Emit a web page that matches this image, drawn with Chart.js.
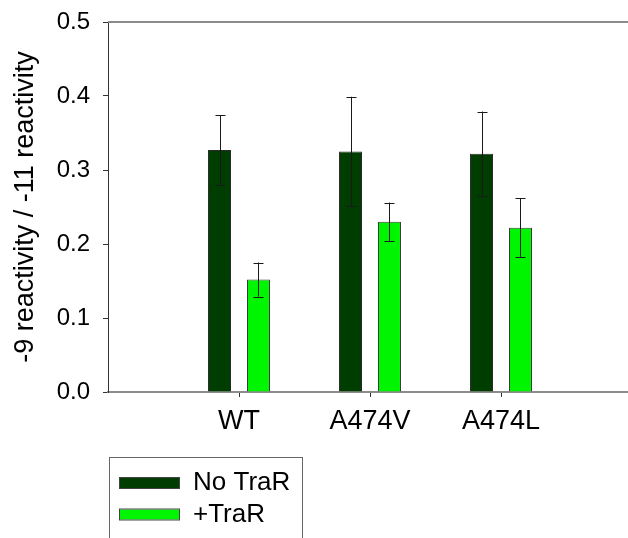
<!DOCTYPE html>
<html>
<head>
<meta charset="utf-8">
<script src="https://cdn.jsdelivr.net/npm/chart.js@4/dist/chart.umd.min.js"></script>
<style>
  html, body { margin: 0; padding: 0; background: #fff; overflow: hidden; }
  #wrap { width: 628px; height: 538px; overflow: hidden; }
  canvas { display: block; }
</style>
</head>
<body>
<div id="wrap"><canvas id="c" width="640" height="538"></canvas></div>
<script>
// Categories (empty slots at both ends keep the groups spaced like the axis)
const categories = ['', 'WT', 'A474V', 'A474L', ''];

// Mean ratio of -9 to -11 reactivity
const noTraR = [null, 0.327, 0.325, 0.322, null];
const plusTraR = [null, 0.152, 0.230, 0.222, null];

// Error bar half-lengths
const noTraRErr = [null, 0.047, 0.074, 0.057, null];
const plusTraRErr = [null, 0.023, 0.026, 0.040, null];

const seriesNames = ['No TraR', '+TraR'];
const yTicks = [0.0, 0.1, 0.2, 0.3, 0.4, 0.5];

const FONT = 'Liberation Sans, Arial, sans-serif';

// Vertical error bars with caps, centred on each bar
const errorBars = {
  id: 'errorBars',
  afterDatasetsDraw(chart) {
    const ctx = chart.ctx;
    const y = chart.scales.y;
    ctx.save();
    ctx.strokeStyle = '#1a1a1a';
    ctx.lineWidth = 1;
    chart.data.datasets.forEach((ds, i) => {
      const meta = chart.getDatasetMeta(i);
      ds.errors.forEach((e, j) => {
        const v = ds.data[j];
        if (v == null || e == null) return;
        const x = Math.round(meta.data[j].x) + 0.5;
        const yTop = y.getPixelForValue(v + e);
        const yBot = y.getPixelForValue(v - e);
        ctx.beginPath();
        ctx.moveTo(x, yTop); ctx.lineTo(x, yBot);
        ctx.moveTo(x - 5, Math.round(yTop) + 0.5); ctx.lineTo(x + 5, Math.round(yTop) + 0.5);
        ctx.moveTo(x - 5, Math.round(yBot) + 0.5); ctx.lineTo(x + 5, Math.round(yBot) + 0.5);
        ctx.stroke();
      });
    });
    ctx.restore();
  }
};

// Top frame line across the plot
const topFrame = {
  id: 'topFrame',
  afterDraw(chart) {
    const { ctx, chartArea } = chart;
    ctx.save();
    ctx.strokeStyle = '#8c8c8c';
    ctx.lineWidth = 2;
    ctx.beginPath();
    ctx.moveTo(chartArea.left, chartArea.top);
    ctx.lineTo(chartArea.right, chartArea.top);
    ctx.stroke();
    ctx.restore();
  }
};

// Boxed legend below the axis
const boxLegend = {
  id: 'boxLegend',
  afterDraw(chart, args, opts) {
    const { ctx, chartArea } = chart;
    const left = chartArea.left + 1;
    const top = chartArea.bottom + opts.offsetTop;
    ctx.save();
    ctx.strokeStyle = '#666';
    ctx.lineWidth = 1;
    ctx.strokeRect(left + 0.5, top + 0.5, opts.width, 200);
    ctx.font = '26px ' + FONT;
    ctx.textBaseline = 'middle';
    chart.data.datasets.forEach((ds, i) => {
      const cy = top + 26 + i * 31.5;
      ctx.fillStyle = ds.backgroundColor;
      ctx.fillRect(left + 10, cy - 5, 60, 10);
      ctx.strokeStyle = '#444';
      ctx.strokeRect(left + 10.5, cy - 5.5, 60, 11);
      ctx.fillStyle = '#000';
      ctx.fillText(ds.label, left + 84, cy);
    });
    ctx.restore();
  }
};

new Chart(document.getElementById('c'), {
  type: 'bar',
  data: {
    labels: categories,
    datasets: [
      {
        label: seriesNames[0],
        data: noTraR,
        errors: noTraRErr,
        backgroundColor: '#003d00',
        borderColor: '#2a2a2a',
        borderWidth: 1
      },
      {
        label: seriesNames[1],
        data: plusTraR,
        errors: plusTraRErr,
        backgroundColor: '#00f500',
        borderColor: '#3a3a3a',
        borderWidth: 1
      }
    ]
  },
  options: {
    responsive: false,
    animation: false,
    devicePixelRatio: 1,
    categoryPercentage: 0.595,
    barPercentage: 0.59,
    layout: { padding: { top: 22, right: 8, left: 0, bottom: 0 } },
    plugins: {
      legend: { display: false },
      tooltip: { enabled: false },
      boxLegend: { offsetTop: 65, width: 193 }
    },
    scales: {
      x: {
        offset: false,
        grid: {
          display: true,
          offset: false,
          drawOnChartArea: false,
          tickLength: 5,
          color: (c) => (categories[c.index] ? '#333' : 'rgba(0,0,0,0)')
        },
        border: { display: true, color: '#8c8c8c', width: 2 },
        ticks: {
          color: '#000',
          font: { family: FONT, size: 27 },
          padding: 8,
          maxRotation: 0,
          autoSkip: false
        },
        afterFit(scale) {
          scale.height = 146;
          scale.paddingLeft = 0;
          scale.paddingRight = 0;
        }
      },
      y: {
        min: 0,
        max: 0.5,
        afterBuildTicks(scale) { scale.ticks = yTicks.map(v => ({ value: v })); },
        grid: { display: true, drawOnChartArea: false, tickLength: 5, color: '#333' },
        border: { display: true, color: '#333', width: 1 },
        ticks: {
          color: '#000',
          font: { family: FONT, size: 24 },
          padding: 13,
          callback: (v) => Number(v).toFixed(1)
        },
        title: {
          display: true,
          text: '-9 reactivity / -11 reactivity',
          color: '#000',
          font: { family: FONT, size: 27 },
          padding: { top: 9, bottom: 0 }
        },
        afterFit(scale) {
          scale.width = 108;
          scale.paddingTop = 0;
          scale.paddingBottom = 0;
        }
      }
    }
  },
  plugins: [errorBars, topFrame, boxLegend]
});
</script>
</body>
</html>
